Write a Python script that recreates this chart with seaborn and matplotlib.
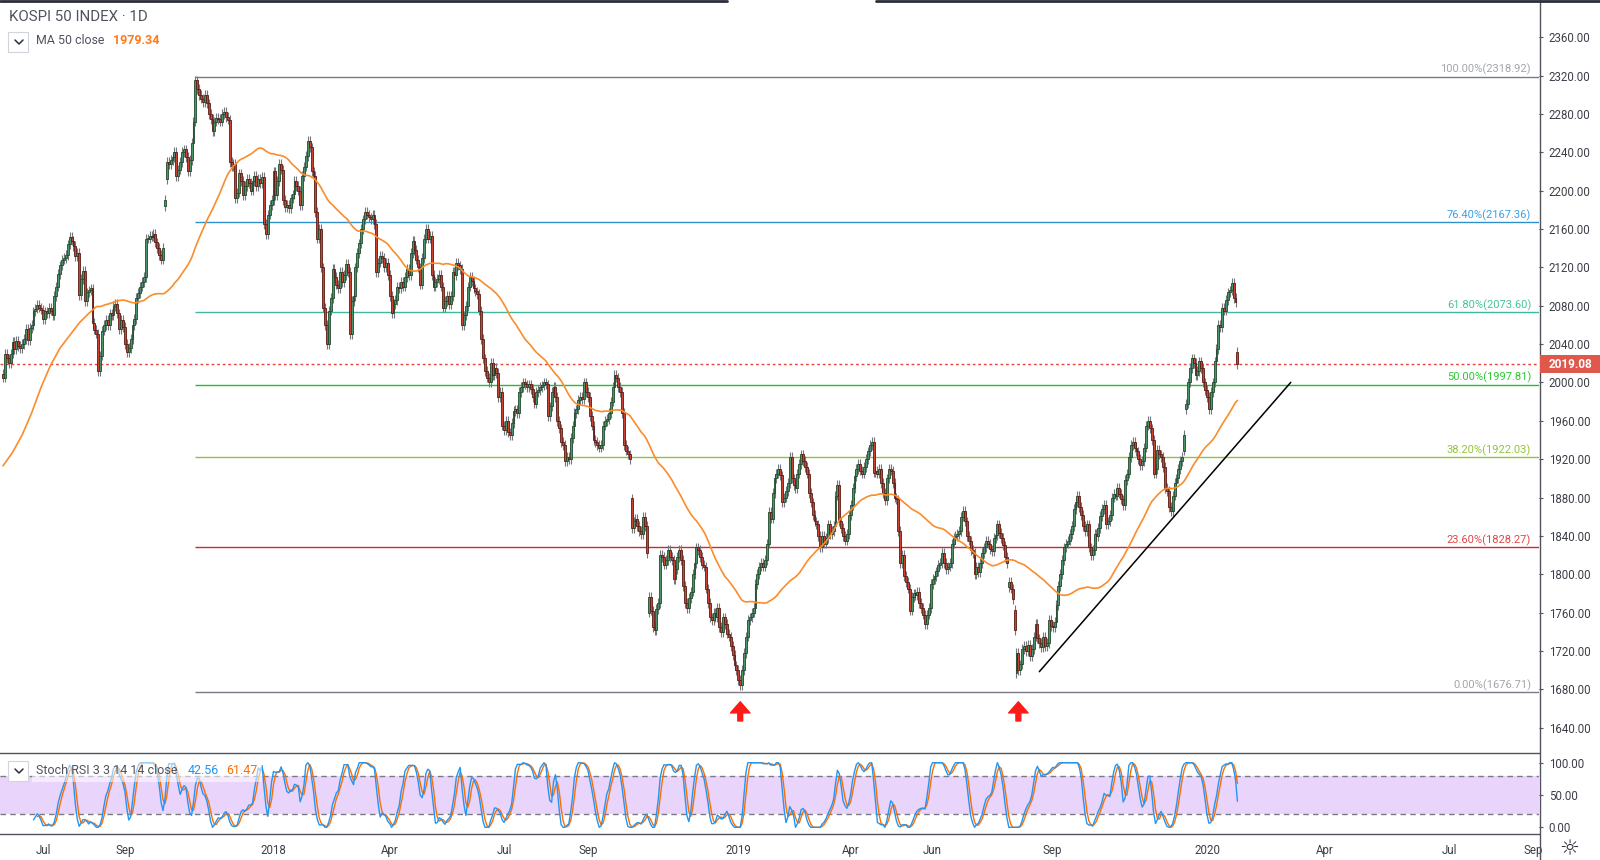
"""KOSPI 50 daily candles with Fibonacci retracement, MA 50 and Stoch RSI (TradingView style)."""
import numpy as np
import pandas as pd
import matplotlib
matplotlib.use("Agg")
import matplotlib.pyplot as plt
from matplotlib.lines import Line2D
from matplotlib.patches import Rectangle
from matplotlib.transforms import blended_transform_factory
import seaborn as sns

# ---------------------------------------------------------------
# daily closes, one list per year (month by month)
# ---------------------------------------------------------------
closes_2017 = [
    # Jun
    2005, 2030, 2025, 2020, 2030, 2042, 2035, 2043, 2038, 2036, 2040, 2045, 2056, 2044, 2057, 2060,
    2074, 2077, 2081, 2078, 2076,
    # Jul
    2066, 2074, 2072, 2078, 2075, 2070, 2090, 2100, 2113, 2122, 2128, 2130, 2133, 2144, 2152, 2148,
    2142, 2132, 2135, 2091, 2108,
    # Aug
    2116, 2085, 2094, 2096, 2098, 2062, 2055, 2051, 2012, 2028, 2054, 2060, 2065, 2060, 2072, 2070,
    2080, 2082, 2072, 2056, 2065, 2058,
    # Sep
    2040, 2032, 2036, 2045, 2060, 2066, 2088, 2093, 2100, 2105, 2110, 2150, 2150, 2153, 2152, 2155,
    2146, 2140, 2133, 2128, 2140,
    # Oct
    2190, 2230, 2228, 2232, 2235, 2240, 2215, 2222, 2230, 2240, 2243, 2235, 2220, 2232, 2250, 2272,
    # Nov
    2315, 2306, 2300, 2296, 2292, 2300, 2291, 2280, 2275, 2262, 2272, 2276, 2275, 2272, 2280, 2282,
    2277, 2274, 2230, 2226, 2228, 2192,
    # Dec
    2198, 2218, 2210, 2195, 2205, 2212, 2208, 2200, 2210, 2215, 2205, 2212, 2208, 2214, 2165, 2155,
    2175, 2185, 2190,
]
closes_2018 = [
    # Jan
    2220, 2195, 2210, 2228, 2222, 2190, 2183, 2185, 2182, 2192, 2196, 2210, 2205, 2200, 2185, 2215,
    2225, 2236, 2252, 2245, 2220, 2215,
    # Feb
    2178, 2150, 2160, 2120, 2078, 2060, 2040, 2075, 2088, 2118, 2110, 2102, 2098, 2115, 2105, 2112,
    2124, 2115,
    # Mar
    2050, 2085, 2090, 2120, 2135, 2145, 2160, 2170, 2178, 2175, 2172, 2170, 2175, 2165, 2115, 2125,
    2132, 2130, 2120, 2125, 2112,
    # Apr
    2090, 2072, 2082, 2086, 2100, 2098, 2105, 2100, 2110, 2118, 2112, 2135, 2148, 2138, 2128, 2120,
    2102, 2130, 2150, 2160, 2150,
    # May
    2153, 2112, 2100, 2105, 2108, 2112, 2100, 2078, 2085, 2090, 2082, 2090, 2115, 2112, 2125, 2122,
    2118, 2060, 2070, 2080,
    # Jun
    2100, 2110, 2106, 2098, 2095, 2092, 2075, 2045, 2025, 2012, 2005, 2000, 2020, 2008, 2015, 2010,
    1985, 1990, 1955,
    # Jul
    1950, 1960, 1948, 1945, 1958, 1970, 1972, 1968, 1990, 1995, 2000, 1998, 1995, 1998, 1993, 1985,
    1978, 1990, 1992, 1995, 1997, 2000,
    # Aug
    1998, 1965, 1975, 1990, 1995, 1985, 1960, 1952, 1938, 1935, 1918, 1922, 1920, 1942, 1955, 1968,
    1972, 1982, 1985, 1983, 2000, 1990,
    # Sep
    1985, 1965, 1955, 1940, 1938, 1935, 1932, 1935, 1955, 1960, 1962, 1968, 1980, 1995, 2008, 2005,
    1995,
    # Oct
    1990, 1968, 1935, 1929, 1925, 1920, 1848, 1855, 1858, 1850, 1845, 1842, 1860, 1850, 1822, 1776,
    1762, 1745, 1742, 1764, 1770,
    # Nov
    1820, 1818, 1810, 1815, 1825, 1818, 1815, 1795, 1805, 1818, 1825, 1815, 1788, 1770, 1765, 1775,
    1782, 1800, 1812, 1828, 1825, 1818,
    # Dec
    1810, 1808, 1785, 1770, 1755, 1752, 1760, 1755, 1765, 1745, 1740, 1755, 1748, 1738, 1735, 1725,
    1716, 1705, 1700,
]
closes_2019 = [
    # Jan
    1690, 1684, 1700, 1718, 1735, 1752, 1755, 1760, 1765, 1790, 1800, 1808, 1812, 1808, 1815, 1832,
    1865, 1858, 1885, 1900, 1905, 1910,
    # Feb
    1903, 1875, 1880, 1887, 1895, 1922, 1900, 1893, 1890, 1905, 1915, 1925, 1918, 1912, 1905, 1885,
    1875,
    # Mar
    1862, 1855, 1852, 1840, 1828, 1840, 1832, 1838, 1852, 1842, 1845, 1850, 1882, 1893, 1855, 1848,
    1840, 1835, 1842, 1862,
    # Apr
    1872, 1890, 1902, 1910, 1915, 1908, 1905, 1912, 1920, 1928, 1935, 1938, 1906, 1908, 1905, 1910,
    1895, 1885, 1877, 1900, 1910, 1908,
    # May
    1895, 1880, 1878, 1845, 1812, 1820, 1798, 1792, 1785, 1762, 1776, 1780, 1778, 1782, 1770, 1765,
    1758, 1748, 1758, 1765, 1790,
    # Jun
    1795, 1798, 1803, 1810, 1812, 1822, 1812, 1805, 1808, 1812, 1832, 1838, 1840, 1842, 1845, 1860,
    1866, 1855, 1840,
    # Jul
    1835, 1825, 1822, 1800, 1808, 1802, 1812, 1822, 1828, 1835, 1832, 1826, 1824, 1838, 1841, 1852,
    1843, 1838, 1830, 1818, 1812, 1792, 1785,
    # Aug
    1774, 1742, 1718, 1700, 1706, 1722, 1725, 1720, 1726, 1715, 1722, 1735, 1748, 1733, 1728, 1724,
    1735, 1725, 1728, 1752, 1746,
    # Sep
    1745, 1750, 1768, 1788, 1800, 1815, 1828, 1832, 1835, 1842, 1850, 1868, 1875, 1882, 1870, 1862,
    1850, 1845, 1852,
    # Oct
    1828, 1820, 1825, 1842, 1840, 1848, 1861, 1868, 1872, 1852, 1855, 1862, 1880, 1884, 1882, 1890,
    1884, 1878, 1872, 1898, 1905,
    # Nov
    1922, 1935, 1938, 1932, 1928, 1920, 1914, 1918, 1932, 1955, 1960, 1952, 1940, 1905, 1910, 1930,
    1925, 1922, 1912, 1890, 1887,
    # Dec
    1870, 1866, 1882, 1895, 1900, 1910, 1918, 1922, 1945, 1978, 2000, 2015, 2025, 2020, 2008, 2012,
    2022, 2015, 2000, 1992,
]
closes_2020 = [
    # Jan
    1985, 1972, 1990, 2000, 2022, 2035, 2060, 2058, 2078, 2075, 2086, 2094, 2096, 2104, 2088, 2084,
    2019.08,
]

first_open = 2009.0
# sessions that opened away from the previous close
open_gaps = {
    "2017-10-10": 2184, "2017-10-11": 2212, "2018-10-11": 1879, "2018-10-24": 1760,
    "2019-07-30": 1787, "2019-08-02": 1763, "2019-08-05": 1697, "2019-12-12": 1929,
    "2019-12-13": 1972, "2020-01-28": 2032,
}

krx_holidays = [
    "2017-06-06", "2017-08-15", "2017-10-02", "2017-10-03", "2017-10-04", "2017-10-05",
    "2017-10-06", "2017-10-09", "2017-12-25", "2017-12-29",
    "2018-01-01", "2018-02-15", "2018-02-16", "2018-03-01", "2018-05-01", "2018-05-07",
    "2018-05-22", "2018-06-06", "2018-06-13", "2018-08-15", "2018-09-24", "2018-09-25",
    "2018-09-26", "2018-10-03", "2018-10-09", "2018-12-25", "2018-12-31",
    "2019-01-01", "2019-02-04", "2019-02-05", "2019-02-06", "2019-03-01", "2019-05-01",
    "2019-05-06", "2019-06-06", "2019-08-15", "2019-09-12", "2019-09-13", "2019-10-03",
    "2019-10-09", "2019-12-25", "2019-12-31",
    "2020-01-01", "2020-01-24", "2020-01-27",
]

# MA 50 before its window fills (every 5th session)
ma50_head = [1913, 1927, 1945, 1968, 1995, 2018, 2036, 2049, 2062, 2072]

fib_pcts = [0.0, 23.6, 38.2, 50.0, 61.8, 76.4, 100.0]
fib_levels = [1676.71, 1828.27, 1922.03, 1997.81, 2073.60, 2167.36, 2318.92]
fib_start = "2017-11-01"

trend_start = ("2019-08-22", 1698.4)
trend_end = ("2020-03-06", 2000.1)
bottom_marks = ["2019-01-03", "2019-08-06"]

month_ticks = [
    ("2017-07", "Jul"), ("2017-09", "Sep"), ("2018-01", "2018"), ("2018-04", "Apr"),
    ("2018-07", "Jul"), ("2018-09", "Sep"), ("2019-01", "2019"), ("2019-04", "Apr"),
    ("2019-06", "Jun"), ("2019-09", "Sep"), ("2020-01", "2020"), ("2020-04", "Apr"),
    ("2020-07", "Jul"), ("2020-09", "Sep"),
]

ma_last = 1979.34
stoch_k_last = 42.56
stoch_d_last = 61.47

# ---------------------------------------------------------------
W, H = 1600, 860
G_FILL, G_EDGE = "#4a9467", "#1f4a2c"
R_FILL, R_EDGE = "#cc4232", "#5a1a12"
MA_COLOR = "#fb8c2c"
FIB_LINE = ["#787b86", "#cc2b2b", "#8cc43c", "#22c02a", "#3fb89e", "#2f8fcb", "#787b86"]
FIB_TEXT = ["#a3a5ab", "#e04848", "#95c53a", "#2ec836", "#45c3a0", "#3aa0e6", "#a3a5ab"]
TXT = "#50535e"
AXIS = "#50535e"
WICK = 5.0      # wick length beyond the body (style)
XLIM = (-1.57, 806.3)


def fx(px):
    return px / W


def fy(py):
    return 1 - py / H


def build_frame():
    days = pd.bdate_range("2017-06-01", "2020-01-28")
    days = days[~days.isin(pd.to_datetime(krx_holidays))]
    close = np.array(closes_2017 + closes_2018 + closes_2019 + closes_2020, dtype=float)
    assert len(close) == len(days), (len(close), len(days))
    df = pd.DataFrame({"date": days, "close": close})
    df["i"] = np.arange(len(df))
    df["open"] = df["close"].shift(1)
    df.loc[0, "open"] = first_open
    for d, o in open_gaps.items():
        df.loc[df["date"] == pd.Timestamp(d), "open"] = o

    # stoch RSI 3 3 14 14
    delta = df["close"].diff()
    gain = delta.clip(lower=0).ewm(alpha=1 / 14, adjust=False).mean()
    loss = (-delta).clip(lower=0).ewm(alpha=1 / 14, adjust=False).mean()
    rsi = 100 - 100 / (1 + gain / loss)
    lo, hi = rsi.rolling(14).min(), rsi.rolling(14).max()
    stoch = 100 * (rsi - lo) / (hi - lo)
    df["k"] = stoch.rolling(3).mean()
    df["d"] = df["k"].rolling(3).mean()
    return df


def main():
    df = build_frame()
    future = pd.bdate_range("2020-01-29", "2020-10-30")
    all_dates = pd.DatetimeIndex(df["date"]).append(future)

    def pos(d):
        return int(all_dates.searchsorted(pd.Timestamp(d)))

    sns.set_theme(style="white")
    plt.rcParams["font.family"] = ["Roboto", "DejaVu Sans"]

    fig = plt.figure(figsize=(W / 100, H / 100), dpi=100)
    fig.patch.set_facecolor("white")
    ax = fig.add_axes([0, fy(753), fx(1539), 753 / H])
    ax2 = fig.add_axes([0, fy(834.3), fx(1539), (834.3 - 753) / H])

    # ---- fib retracement
    x0 = pos(fib_start)
    for p, lvl, lc, tc in zip(fib_pcts, fib_levels, FIB_LINE, FIB_TEXT):
        ax.hlines(lvl, x0, XLIM[1], colors=lc, lw=1.0, zorder=1)
        ax.annotate(f"{p:.2f}%({lvl:.2f})", xy=(1531 / 1539, lvl),
                    xycoords=("axes fraction", "data"), xytext=(0, 0.8),
                    textcoords="offset points", ha="right", va="bottom",
                    fontsize=8, color=tc)

    last_close = df["close"].iloc[-1]
    ax.axhline(last_close, color="#e8453c", lw=1.0, ls=(0, (2, 2)), zorder=1)

    # ---- candles
    up = (df["close"] >= df["open"]).to_numpy()
    body_lo = np.minimum(df["open"], df["close"]).to_numpy()
    body_hi = np.maximum(df["open"], df["close"]).to_numpy()
    height = np.maximum(body_hi - body_lo, 1.0)
    ax.vlines(df["i"], body_lo - WICK, body_hi + WICK, color="#75777f", lw=0.8, zorder=2)
    ax.bar(df["i"], height, bottom=body_lo, width=1.0,
           color=[G_FILL if u else R_FILL for u in up],
           edgecolor=[G_EDGE if u else R_EDGE for u in up],
           linewidth=0.6, zorder=3)

    # ---- MA 50
    ma = df["close"].rolling(50).mean()
    ma_df = pd.concat([
        pd.DataFrame({"i": np.arange(0, 50, 5), "ma": ma50_head}),
        pd.DataFrame({"i": df["i"].iloc[49:], "ma": ma.iloc[49:]}),
    ])
    sns.lineplot(data=ma_df, x="i", y="ma", ax=ax, color=MA_COLOR, linewidth=1.2,
                 estimator=None, zorder=4)

    # ---- trend line and bottom arrows
    ax.plot([pos(trend_start[0]), pos(trend_end[0])], [trend_start[1], trend_end[1]],
            color="black", lw=1.1, zorder=5)
    for d in bottom_marks:
        xi = pos(d)
        ax.annotate("", xy=(xi, 1667), xytext=(xi, 1647),
                    arrowprops=dict(facecolor="#ff1a1a", edgecolor="#ff1a1a",
                                    width=3.5, headwidth=14, headlength=8, shrink=0))

    ax.set_xlim(*XLIM)
    ax.set_ylim(1613.6, 2398.8)
    ax.set_xlabel("")
    ax.set_ylabel("")
    ax.set_xticks([])
    ax.yaxis.tick_right()
    yt = np.arange(1640, 2361, 40)
    ax.set_yticks(yt)
    ax.set_yticklabels([f"{v:.2f}" for v in yt])
    ax.tick_params(axis="y", direction="out", length=3, width=0.8, color=AXIS,
                   labelsize=8.3, labelcolor="#3c3f48", pad=4)
    for s in ax.spines.values():
        s.set_visible(False)

    # last price tag (figure-level so it sits above the axes)
    bt = blended_transform_factory(fig.transFigure, ax.transData)
    fig.add_artist(Rectangle((fx(1540), last_close - 9.4), 60 / W, 18.8, transform=bt,
                             facecolor="#e0584b", edgecolor="none", zorder=5))
    fig.text(fx(1549), last_close, f"{last_close:.2f}", transform=bt, ha="left",
             va="center", fontsize=8.5, color="white", fontweight="bold", zorder=6)

    # ---- Stoch RSI panel
    ax2.axhspan(20, 80, color="#e9d4fb", zorder=0, lw=0)
    for lvl in (80, 20):
        ax2.axhline(lvl, color="#787b86", lw=1.0, ls=(0, (4, 3)), zorder=1)
    sns.lineplot(data=df, x="i", y="k", ax=ax2, color="#2196f3", linewidth=1.0,
                 estimator=None, zorder=3)
    sns.lineplot(data=df, x="i", y="d", ax=ax2, color="#ff6d00", linewidth=1.0,
                 estimator=None, zorder=2)
    ax2.set_xlim(*XLIM)
    ax2.set_ylim(-10.8, 115)
    ax2.set_xlabel("")
    ax2.set_ylabel("")
    ax2.yaxis.tick_right()
    ax2.set_yticks([0, 50, 100])
    ax2.set_yticklabels(["0.00", "50.00", "100.00"])
    ax2.set_xticks([pos(m + "-01") for m, _ in month_ticks])
    ax2.set_xticklabels([lab for _, lab in month_ticks])
    ax2.tick_params(axis="both", direction="out", length=3, width=0.8, color=AXIS,
                    labelsize=8.3, labelcolor="#3c3f48", pad=4)
    for side in ("left", "right"):
        ax2.spines[side].set_visible(False)
    for side in ("top", "bottom"):
        ax2.spines[side].set_color(AXIS)
        ax2.spines[side].set_linewidth(1.0)

    # ---- frame lines
    fig.add_artist(Line2D([fx(1540), fx(1540)], [0, 1], color=AXIS, lw=1.0))
    fig.add_artist(Line2D([0, fx(727)], [fy(0.8), fy(0.8)], color="#2a2e39", lw=2))
    fig.add_artist(Line2D([fx(876), 1], [fy(0.8), fy(0.8)], color="#2a2e39", lw=2))

    # ---- legends
    fig.text(fx(9), fy(17), "KOSPI 50 INDEX · 1D", fontsize=10.8, color=TXT, va="center")
    for top in (32, 761):
        fig.add_artist(Rectangle((fx(8), fy(top + 20)), 20 / W, 20 / H,
                                 facecolor="white", edgecolor="#d1d4dc", lw=0.8))
        cy = top + 8
        fig.add_artist(Line2D([fx(15), fx(19), fx(23)], [fy(cy), fy(cy + 4), fy(cy)],
                              color="#2a2e39", lw=1.1))
    fig.text(fx(36), fy(41), "MA 50 close", fontsize=8.9, color=TXT, va="center")
    fig.text(fx(113), fy(41), f"{ma_last:.2f}", fontsize=9, color="#ff7a1a",
             va="center", fontweight="bold")

    fig.add_artist(Rectangle((fx(32), fy(782)), 230 / W, 20 / H, facecolor="white",
                             edgecolor="none", alpha=0.55))
    fig.text(fx(36), fy(771), "Stoch RSI 3 3 14 14 close", fontsize=9, color=TXT, va="center")
    fig.text(fx(188), fy(771), f"{stoch_k_last:.2f}", fontsize=9, color="#2196f3", va="center")
    fig.text(fx(226), fy(771), f"{stoch_d_last:.2f}", fontsize=9, color="#ff6d00", va="center")

    fig.text(fx(1569), fy(849), "☼", fontsize=16, color="#2a2e39", ha="center",
             va="center", family=["DejaVu Sans"])

    fig.savefig("out.png", dpi=100, facecolor="white")
    plt.close(fig)


if __name__ == "__main__":
    main()
